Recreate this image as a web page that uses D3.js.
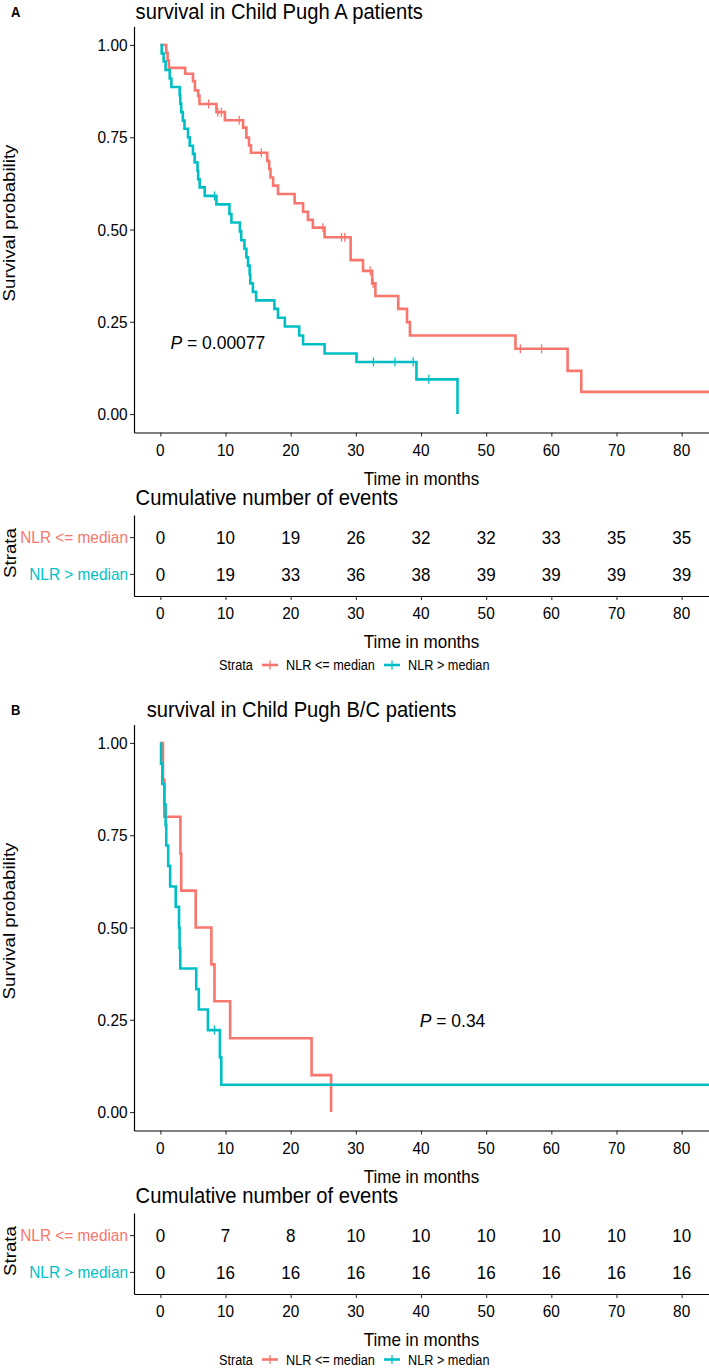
<!DOCTYPE html>
<html><head><meta charset="utf-8">
<script src="https://cdn.jsdelivr.net/npm/d3@7"></script>
<style>
body{margin:0;background:#fff}
svg{display:block}
text{font-family:"Liberation Sans",Arial,Helvetica,sans-serif}
</style>
</head><body>
<svg id="c" width="709" height="1369"></svg>
<script>
// ---------- data ----------
const months = [0, 10, 20, 30, 40, 50, 60, 70, 80];
const survTicks = [0, 0.25, 0.5, 0.75, 1];
const survTickLabels = ["0.00", "0.25", "0.50", "0.75", "1.00"];
const strata = ["NLR <= median", "NLR > median"];
const strataColors = ["#F8766D", "#00BFC4"];

// Panel A : Child Pugh A
const titleA = "survival in Child Pugh A patients";
const timeA_low = [0, 0.9, 1.1, 1.3, 3.8, 5.0, 5.3, 5.8, 6.0, 8.6, 9.9, 12.7, 13.2, 13.6, 13.9, 16.4, 16.7, 16.9, 17.3, 18.05, 20.6, 21.9, 22.65, 23.4, 25.2, 29.2, 31.1, 32.5, 33.0, 36.5, 37.85, 38.3, 54.5, 62.5, 64.6, 85];
const survA_low = [1, 0.979, 0.958, 0.938, 0.922, 0.902, 0.877, 0.862, 0.840, 0.818, 0.796, 0.776, 0.749, 0.728, 0.708, 0.686, 0.664, 0.641, 0.619, 0.596, 0.571, 0.548, 0.526, 0.505, 0.479, 0.417, 0.388, 0.354, 0.320, 0.285, 0.249, 0.213, 0.177, 0.117, 0.060, 0.060];
const censorA_low = [7.4, 8.8, 9.35, 12.1, 15.5, 24.95, 27.8, 28.3, 32.2, 32.65, 55.25, 58.5];
const timeA_high = [0, 0.2, 0.5, 0.8, 1.43, 1.69, 2.96, 3.05, 3.2, 3.45, 3.7, 4.24, 4.5, 5.0, 5.26, 5.7, 5.8, 6.03, 6.8, 8.6, 10.6, 10.9, 12.2, 12.4, 12.9, 13.2, 13.45, 13.7, 13.8, 14.2, 14.7, 17.5, 18.05, 19.1, 21.3, 21.9, 25.2, 30.1, 39.3, 45.6];
const survA_high = [1, 0.977, 0.955, 0.932, 0.909, 0.886, 0.864, 0.841, 0.818, 0.795, 0.773, 0.75, 0.727, 0.705, 0.682, 0.659, 0.636, 0.614, 0.591, 0.568, 0.542, 0.519, 0.495, 0.471, 0.448, 0.425, 0.402, 0.378, 0.354, 0.331, 0.308, 0.285, 0.261, 0.237, 0.213, 0.189, 0.164, 0.141, 0.094, 0];
const censorA_high = [8.3, 32.7, 36.0, 38.8, 41.2];
const eventsA_low = [0, 10, 19, 26, 32, 32, 33, 35, 35];
const eventsA_high = [0, 19, 33, 36, 38, 39, 39, 39, 39];
const pTextA = "0.00077";
const pPosA = [1.55, 0.196];

// Panel B : Child Pugh B/C
const titleB = "survival in Child Pugh B/C patients";
const timeB_low = [0, 0.4, 0.6, 3.07, 3.2, 5.42, 7.83, 8.3, 10.7, 23.2, 26.2];
const survB_low = [1, 0.9, 0.8, 0.7, 0.6, 0.5, 0.4, 0.3, 0.2, 0.1, 0];
const censorB_low = [];
const timeB_high = [0, 0.1, 0.3, 0.6, 0.8, 0.9, 1.2, 1.5, 2.35, 2.86, 2.95, 3.05, 5.5, 5.9, 7.3, 9.13, 9.35, 85];
const survB_high = [1, 0.944, 0.889, 0.833, 0.778, 0.722, 0.667, 0.611, 0.556, 0.5, 0.444, 0.389, 0.333, 0.278, 0.222, 0.148, 0.074, 0.074];
const censorB_high = [8.3];
const eventsB_low = [0, 7, 8, 10, 10, 10, 10, 10, 10];
const eventsB_high = [0, 16, 16, 16, 16, 16, 16, 16, 16];
const pTextB = "0.34";
const pPosB = [39.8, 0.249];

// ---------- drawing ----------
const svg = d3.select("#c");
const SY = 1.1; // vertical stretch of the reference text

function label(g, x, y, str, o = {}) {
  const fs = o.size || 15.4;
  const rot = o.rotate ? ` rotate(${o.rotate})` : "";
  const t = g.append("text")
    .attr("transform", `translate(${x},${y}) scale(1,${SY})${rot}`)
    .attr("font-size", fs)
    .attr("text-anchor", o.anchor || "start")
    .attr("fill", o.fill || "#000")
    .attr("dy", (0.358 * fs).toFixed(2));
  if (o.bold) t.attr("font-weight", "bold");
  t.text(str);
  return t;
}

function panel(off, cfg) {
  const g = svg.append("g").attr("transform", `translate(0,${off})`);
  const x = d3.scaleLinear().domain([-4.05, 84.2]).range([134, 709]);
  const y = d3.scaleLinear().domain([-0.05, 1.05]).range([432.5, 26.5]);

  // letter + title
  label(g, 11, 11.5, cfg.letter, {size: 13, bold: true});
  label(g, cfg.titleX, 11, cfg.title, {size: 20.2});

  // clip
  const cid = "clip" + cfg.letter;
  g.append("clipPath").attr("id", cid).append("rect")
    .attr("x", 134).attr("y", 20).attr("width", 575).attr("height", 412.5);

  // curves
  const line = d3.line().x(d => x(d[0])).y(d => y(d[1])).curve(d3.curveStepAfter);
  const cg = g.append("g").attr("clip-path", `url(#${cid})`);
  cfg.curves.forEach((c, i) => {
    const pts = c.t.map((t, k) => [t, c.s[k]]);
    cg.append("path").attr("d", line(pts)).attr("fill", "none")
      .attr("stroke", strataColors[i]).attr("stroke-width", 2.6);
    c.c.forEach(ct => {
      const k = d3.bisectRight(c.t, ct) - 1;
      const sv = c.s[Math.max(0, k)];
      cg.append("line").attr("x1", x(ct)).attr("x2", x(ct))
        .attr("y1", y(sv) - 4.5).attr("y2", y(sv) + 4.5)
        .attr("stroke", strataColors[i]).attr("stroke-width", 1.3);
    });
  });

  // axes
  const ay = g.append("g").attr("transform", "translate(134,0)")
    .call(d3.axisLeft(y).tickValues(survTicks).tickSize(4).tickSizeOuter(0).tickFormat(""));
  const ax = g.append("g").attr("transform", "translate(0,432.5)")
    .call(d3.axisBottom(x).tickValues(months).tickSize(4).tickSizeOuter(0).tickFormat(""));
  [ay, ax].forEach(a => {
    a.select(".domain").attr("stroke", "#000").attr("stroke-width", 1.2);
    a.selectAll(".tick line").attr("stroke", "#333").attr("stroke-width", 1.1);
  });
  survTicks.forEach((v, i) => label(g, 127.5, y(v), survTickLabels[i], {anchor: "end"}));
  months.forEach(m => label(g, x(m), 450, String(m), {anchor: "middle"}));
  label(g, 421.5, 478.7, "Time in months", {size: 17, anchor: "middle"});
  label(g, 8.5, 223, "Survival probability", {size: 17, anchor: "middle", rotate: -90});

  // p-value
  const pt = label(g, x(cfg.pPos[0]), y(cfg.pPos[1]), "", {size: 17.5});
  pt.append("tspan").attr("font-style", "italic").text("P");
  pt.append("tspan").text(" = " + cfg.pText);

  // risk table
  label(g, 135.6, 497.3, "Cumulative number of events", {size: 20.2});
  const ty = d3.scalePoint().domain(strata).range([515, 596]).padding(0.6);
  const tay = g.append("g").attr("transform", "translate(134,0)")
    .call(d3.axisLeft(ty).tickSize(4).tickSizeOuter(0).tickFormat(""));
  const tax = g.append("g").attr("transform", "translate(0,596)")
    .call(d3.axisBottom(x).tickValues(months).tickSize(4).tickSizeOuter(0).tickFormat(""));
  [tay, tax].forEach(a => {
    a.select(".domain").attr("stroke", "#000").attr("stroke-width", 1.2);
    a.selectAll(".tick line").attr("stroke", "#333").attr("stroke-width", 1.1);
  });
  strata.forEach((s, i) => {
    label(g, 128, ty(s), s, {anchor: "end", fill: strataColors[i]});
    cfg.events[i].forEach((v, k) => label(g, x(months[k]), ty(s), String(v), {size: 17, anchor: "middle"}));
  });
  months.forEach(m => label(g, x(m), 613.3, String(m), {anchor: "middle"}));
  label(g, 421.5, 641.7, "Time in months", {size: 17, anchor: "middle"});
  label(g, 10, 553, "Strata", {size: 17, anchor: "middle", rotate: -90});

  // legend
  const ly = cfg.legendY;
  label(g, 219, ly, "Strata", {size: 12.7});
  const keys = [[262, 286], [384, 408]];
  strata.forEach((s, i) => {
    const [kx, tx] = keys[i];
    g.append("line").attr("x1", kx).attr("x2", kx + 16).attr("y1", ly).attr("y2", ly)
      .attr("stroke", strataColors[i]).attr("stroke-width", 2.6);
    g.append("line").attr("x1", kx + 8).attr("x2", kx + 8).attr("y1", ly - 4.5).attr("y2", ly + 4.5)
      .attr("stroke", strataColors[i]).attr("stroke-width", 1.3);
    label(g, tx, ly, s, {size: 12.7});
  });
}

panel(0, {
  letter: "A", title: titleA, titleX: 135.6, pText: pTextA, pPos: pPosA, legendY: 665,
  curves: [
    {t: timeA_low, s: survA_low, c: censorA_low},
    {t: timeA_high, s: survA_high, c: censorA_high}
  ],
  events: [eventsA_low, eventsA_high]
});
panel(698, {
  letter: "B", title: titleB, titleX: 146.7, pText: pTextB, pPos: pPosB, legendY: 661.5,
  curves: [
    {t: timeB_low, s: survB_low, c: censorB_low},
    {t: timeB_high, s: survB_high, c: censorB_high}
  ],
  events: [eventsB_low, eventsB_high]
});
</script>
</body></html>
